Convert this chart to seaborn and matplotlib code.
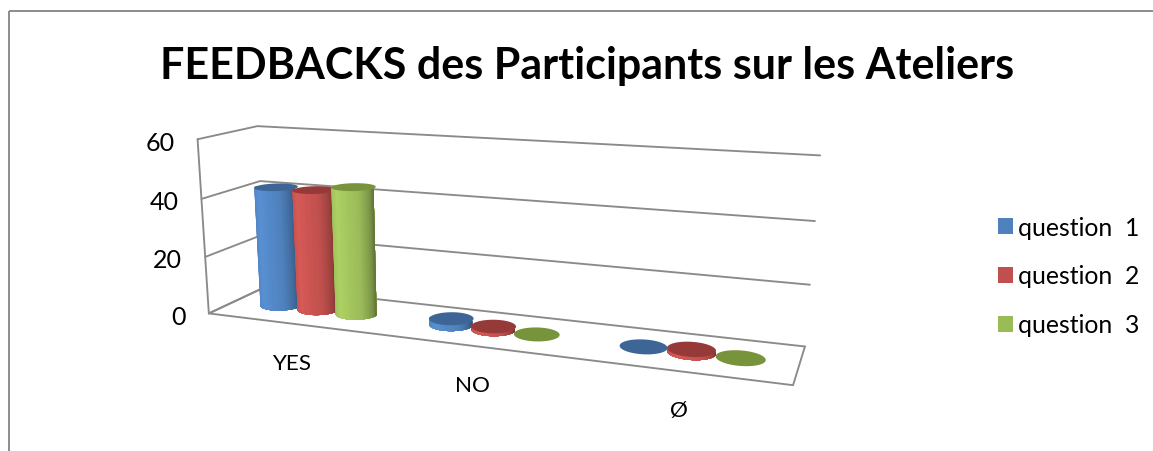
import numpy as np
import pandas as pd
import matplotlib
matplotlib.use("Agg")
import matplotlib.pyplot as plt
from matplotlib.collections import PolyCollection
from matplotlib.colors import to_rgb
from matplotlib.patches import Patch, Polygon, Rectangle
import seaborn as sns

# ---- data ----
categories = ["YES", "NO", "Ø"]
series_names = ["question  1", "question  2", "question  3"]
question_1 = [42, 2, 0]
question_2 = [42, 1, 1]
question_3 = [44, 0, 0]
value_ticks = [0, 20, 40, 60]
title = "FEEDBACKS des Participants sur les Ateliers"

# ---- style ----
sns.set_theme(style="white")
plt.rcParams["font.family"] = ["Lato", "DejaVu Sans"]
colors = sns.color_palette(["#4F81BD", "#C0504D", "#9BBB59"])
top_colors = sns.color_palette(["#3D6595", "#953A38", "#77933C"])
GRID = "#8A8A8A"

fig = plt.figure(figsize=(11.53, 4.52), dpi=100, facecolor="white")
ax = fig.add_axes([0, 0, 1, 1])

# ---- camera: calibrated from the frame of the 3-D box (X category, Y value, Z depth) ----
world = np.array([(0, 0, 0), (3, 0, 0), (0, 0, 1), (3, 0, 1), (0, 60, 0), (0, 60, 1), (3, 60, 1),
                  (0, 40, 0), (0, 20, 0), (3, 40, 1), (3, 20, 1), (0, 40, 1), (0, 20, 1)], float)
image = np.array([(210, 313), (793, 388), (264, 290), (805, 346), (195, 141), (259, 127), (820, 157),
                  (202, 200), (206, 257), (815, 222), (810, 285), (261, 181), (262, 236)], float)
A = []
for (X, Y, Z), (u, v) in zip(world, image):
    P = [X, Y, Z, 1]
    A.append(P + [0, 0, 0, 0] + [-u * p for p in P])
    A.append([0, 0, 0, 0] + P + [-v * p for p in P])
CAM = np.linalg.svd(np.array(A))[2][-1].reshape(3, 4)


def project(X, Y, Z):
    X, Y, Z = np.broadcast_arrays(np.asarray(X, float), np.asarray(Y, float), np.asarray(Z, float))
    h = CAM @ np.vstack([X.ravel(), Y.ravel(), Z.ravel(), np.ones(X.size)])
    return h[0] / h[2], h[1] / h[2]


# ---- frame lines, through seaborn ----
nx = len(categories)
ymax = value_ticks[-1]
rows = []


def add_line(name, pts):
    xs, ys = project(*np.array(pts, float).T)
    for i, (a, b) in enumerate(zip(xs, ys)):
        rows.append(dict(line=name, order=i, px=a, py=b))


for v in value_ticks:
    add_line(f"g{v}", [(0, v, 0), (0, v, 1), (nx, v, 1)])
add_line("left", [(0, 0, 0), (0, ymax, 0)])
add_line("leftback", [(0, 0, 1), (0, 0, 0), (nx, 0, 0), (nx, 0, 1)])
frame = pd.DataFrame(rows)
sns.lineplot(data=frame, x="px", y="py", units="line", estimator=None, sort=False,
             color=GRID, linewidth=1.35, ax=ax, legend=False)


# ---- cylinders ----
def shade(color, t):
    f = np.interp(t, [0, 0.12, 0.38, 0.72, 0.9, 1], [0.86, 1.0, 1.12, 1.0, 0.8, 0.62])
    return tuple(np.clip(np.array(to_rgb(color)) * f, 0, 1))


RX, RZ, STEP, ZC = 0.114, 0.2, 0.23, 0.5
values = [question_1, question_2, question_3]
for c in range(nx):
    for s in range(len(series_names)):
        v = values[s][c]
        cx = c + 0.505 + (s - 1) * STEP
        if v > 0:
            th = np.linspace(np.pi, 0, 41)
            xs = cx + RX * np.cos(th)
            zs = ZC - RZ * np.sin(th)
            bx, by = project(xs, 0, zs)
            tx, ty = project(xs, v, zs)
            polys, cols = [], []
            # every strip reaches to the far edge, the next one paints over it: no seams
            for k in range(len(th) - 1):
                polys.append(list(zip(bx[k:], by[k:])) + list(zip(tx[k:][::-1], ty[k:][::-1])))
                cols.append(shade(colors[s], k / (len(th) - 2)))
            ax.add_collection(PolyCollection(polys, facecolors=cols, edgecolors="none", linewidths=0,
                                             zorder=5 + s))
        th = np.linspace(0, 2 * np.pi, 97)
        ex, ey = project(cx + RX * np.cos(th), v, ZC + RZ * np.sin(th))
        ax.add_patch(Polygon(np.c_[ex, ey], closed=True, facecolor=top_colors[s], edgecolor="none", zorder=5.5 + s))

# ---- text ----
ax.text(587, 66, title, ha="center", va="center", fontsize=31, fontweight="bold", color="black")
for v in value_ticks:
    px, py = project(0, v, 0)
    ax.text(px[0] - 23, py[0] + 3, str(v), ha="right", va="center", fontsize=18, color="black")
for i, name in enumerate(categories):
    px, py = project(i + 0.5, 0, 0)
    ax.text(px[0], py[0] + 39, name, ha="center", va="center", fontsize=16.2, color="black")

handles = [Patch(facecolor=col, edgecolor="none", label=n) for col, n in zip(colors, series_names)]
ax.legend(handles=handles, loc="center left", bbox_to_anchor=(978 / 1153, 1 - 277 / 452), frameon=False,
          fontsize=17.8, handlelength=0.6, handleheight=0.6, handletextpad=0.2, labelspacing=1.05,
          labelcolor="black", borderpad=0.3)

# chart border, cropped by the picture on the right and at the bottom
ax.add_patch(Rectangle((9, 12), 1300, 600, fill=False, edgecolor="#8C8C8C", linewidth=1.4, zorder=1))

ax.set_xlim(0, 1153)
ax.set_ylim(452, 0)
ax.set_axis_off()
fig.savefig("out.png", dpi=100, facecolor="white")
